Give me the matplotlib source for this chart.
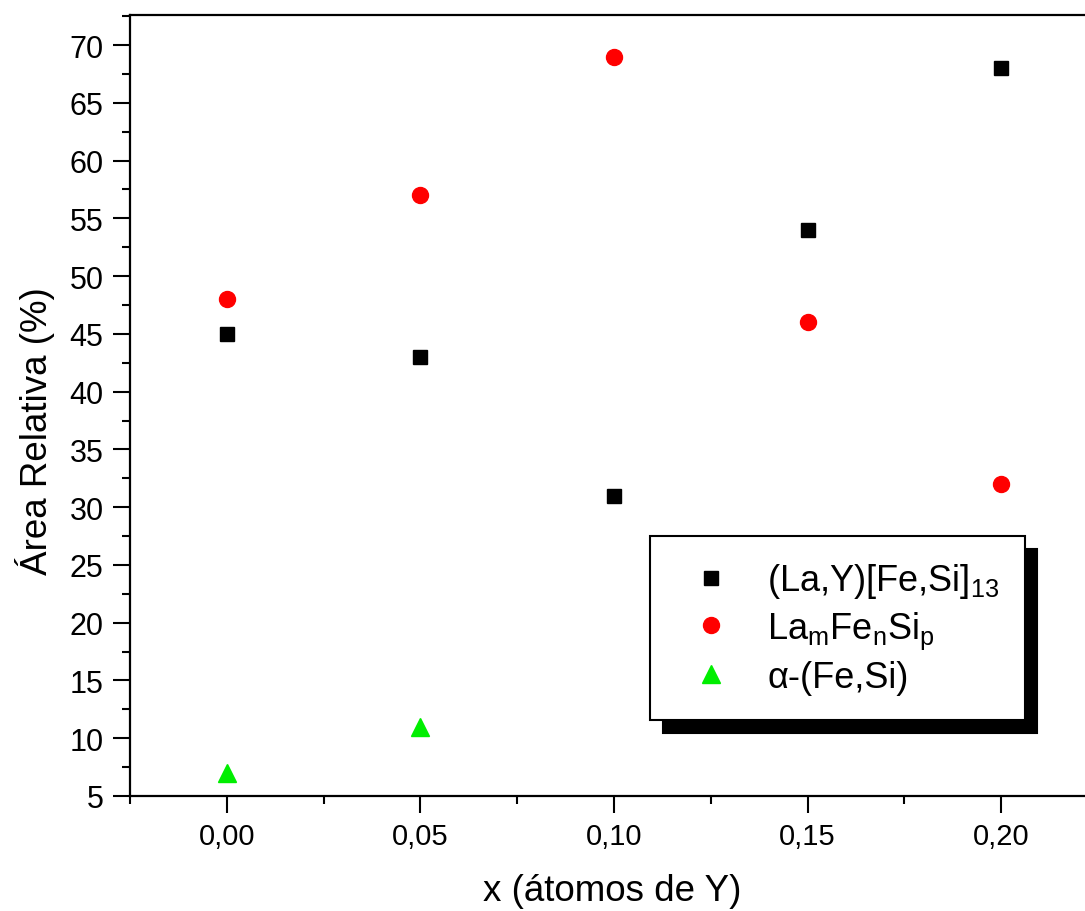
import numpy as np
import matplotlib
matplotlib.use('Agg')
import matplotlib.pyplot as plt
from matplotlib.ticker import MultipleLocator, FuncFormatter

plt.rcParams['font.family'] = ['Liberation Sans', 'DejaVu Sans']
plt.rcParams['mathtext.fontset'] = 'custom'
plt.rcParams['mathtext.rm'] = 'Liberation Sans'
plt.rcParams['mathtext.it'] = 'Liberation Sans:italic'
plt.rcParams['mathtext.default'] = 'regular'

# data
x_sq = [0.00, 0.05, 0.10, 0.15, 0.20]
y_sq = [45, 43, 31, 54, 68]
x_ci = [0.00, 0.05, 0.10, 0.15, 0.20]
y_ci = [48, 57, 69, 46, 32]
x_tr = [0.00, 0.05]
y_tr = [7, 11]
labels = [r'(La,Y)[Fe,Si]$_{13}$', r'La$_m$Fe$_n$Si$_p$', 'α-(Fe,Si)']

fig = plt.figure(figsize=(10.85, 9.12), dpi=100)
# axes run past the right edge of the figure, as in the original crop
ax = fig.add_axes([130/1085, 115/912, 968/1085, 781/912])

ax.plot(x_sq, y_sq, 's', color='black', markersize=10.5, label=labels[0])
ax.plot(x_ci, y_ci, 'o', color='#ff0000', markersize=11.5, label=labels[1])
ax.plot(x_tr, y_tr, '^', color='#00ee00', markersize=13, label=labels[2])

ax.set_xlim(-0.025, 0.225)
ax.set_ylim(5, 72.6)
ax.xaxis.set_major_locator(MultipleLocator(0.05))
ax.xaxis.set_minor_locator(MultipleLocator(0.025))
ax.yaxis.set_major_locator(MultipleLocator(5))
ax.yaxis.set_minor_locator(MultipleLocator(2.5))
ax.xaxis.set_major_formatter(FuncFormatter(lambda v, p: ('%.2f' % v).replace('.', ',')))

for s in ax.spines.values():
    s.set_linewidth(1.6)
ax.spines['right'].set_visible(False)
ax.tick_params(which='major', direction='out', length=12, width=1.5, pad=7)
ax.tick_params(which='minor', direction='out', length=6, width=1.5)
ax.tick_params(axis='x', which='major', labelsize=21)
ax.tick_params(axis='y', which='major', labelsize=22)

ax.set_xlabel('x (átomos de Y)', fontsize=26.5, va='baseline')
ax.xaxis.set_label_coords(0.4985, -0.1335)
ax.set_ylabel('Área Relativa (%)', fontsize=26.5, va='center')
ax.yaxis.set_label_coords(-0.098, 0.469)

leg = ax.legend(loc='upper left', bbox_to_anchor=(650/1085, 1-537/912),
                bbox_transform=fig.transFigure, borderaxespad=0,
                fontsize=26, frameon=True, fancybox=False, numpoints=1,
                handlelength=2.0, handletextpad=0.55, borderpad=0.7,
                labelspacing=0.25, markerscale=1.0,
                shadow={'ox': 9, 'oy': -9, 'facecolor': 'black',
                        'edgecolor': 'black', 'alpha': 1})
leg.get_frame().set_edgecolor('black')
leg.get_frame().set_linewidth(1.5)
leg.get_frame().set_alpha(1)

fig.savefig('out.png', dpi=100)
